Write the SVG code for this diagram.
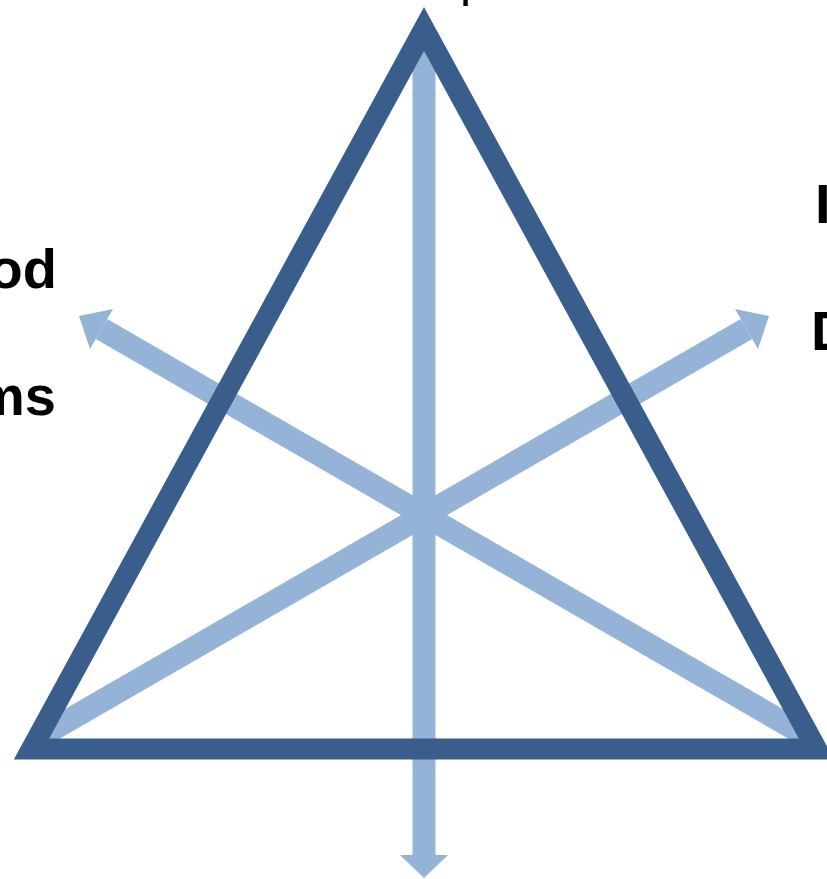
<svg xmlns="http://www.w3.org/2000/svg" width="827" height="879" viewBox="0 0 827 879">
<style>
.bar{stroke:#95B3D7;stroke-width:23;fill:none}
.head{fill:#95B3D7}
.tri{stroke:#3A5E8B;stroke-width:21;fill:none;stroke-linejoin:miter;stroke-miterlimit:10}
.lbl{font-family:"Liberation Sans",Arial,sans-serif;font-weight:bold;font-size:56px;fill:#000}
</style>
<rect width="827" height="879" fill="#fff"/>
<g id="connectors">
<line class="bar" x1="805" y1="735" x2="101.5" y2="329"/>
<polygon class="head" points="79,316 113,309.1 90,348.9"/>
<line class="bar" x1="43" y1="735" x2="746.5" y2="329"/>
<polygon class="head" points="769,316 735,309.1 758,348.9"/>
<line class="bar" x1="424" y1="40" x2="424" y2="856"/>
<polygon class="head" points="400,855 448,855 424,878"/>
</g>
<g id="triangle">
<polygon class="tri" points="424,29 816.5,749 31.5,749"/>
</g>
<g id="labels">
<text class="lbl" x="57" y="288" text-anchor="end">od</text>
<text class="lbl" x="56" y="415" text-anchor="end">ms</text>
<text class="lbl" x="815" y="223">I</text>
<text class="lbl" x="811" y="350">D</text>
<text x="460" y="-4.5" style="font-family:'Liberation Sans',Arial,sans-serif;font-size:50px;fill:#000">p</text>
</g>
</svg>
